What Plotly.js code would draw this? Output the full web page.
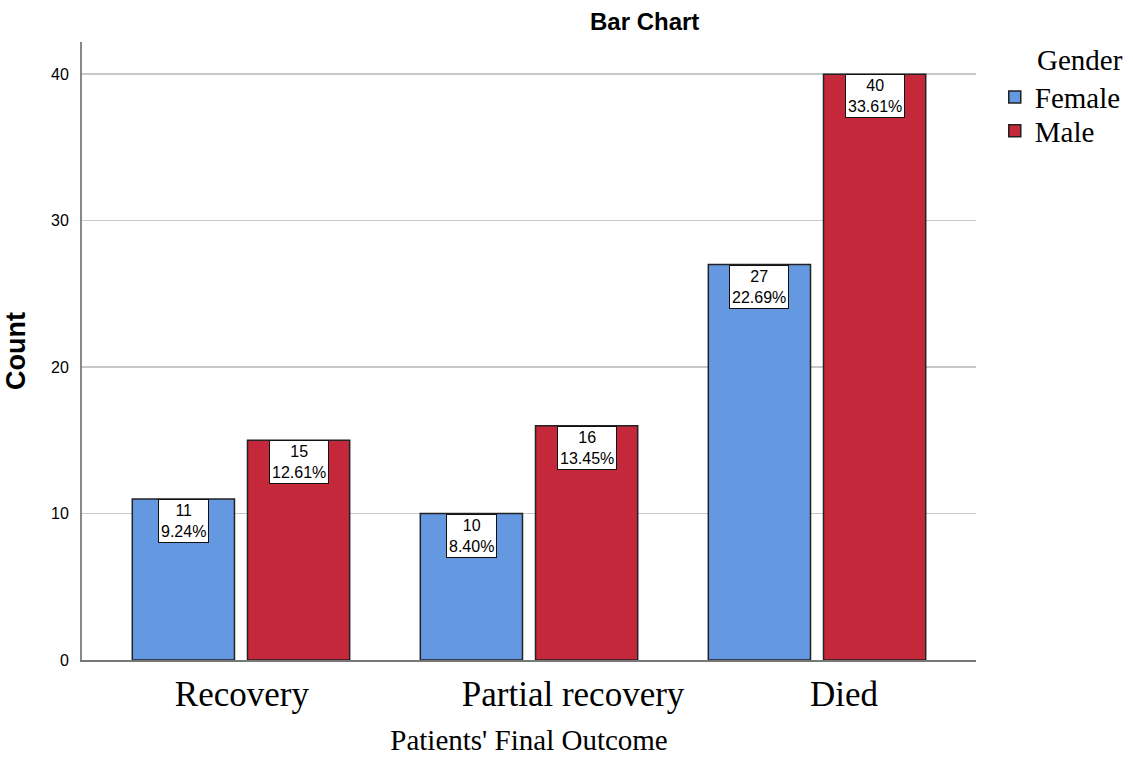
<!DOCTYPE html>
<html>
<head>
<meta charset="utf-8">
<script src="https://cdn.plot.ly/plotly-3.0.1.min.js"></script>
<style>
  html, body { margin: 0; padding: 0; background: white; }
  #myDiv { width: 1133px; height: 761px; }
</style>
</head>
<body>
<div id="myDiv"></div>
<script>
// values
const categories = ["Recovery", "Partial recovery", "Died"];
const femaleCounts = [11, 10, 27];
const maleCounts = [15, 16, 40];
const femalePct = ["9.24%", "8.40%", "22.69%"];
const malePct = ["12.61%", "13.45%", "33.61%"];

const serif = "Liberation Serif, Times New Roman, serif";
const sans = "Liberation Sans, Arial, sans-serif";

// bars go on a numeric axis (one slot per category) so the category
// labels can sit where the original puts them, a little right of centre
const slots = categories.map((c, i) => i);

let data = [
    {
        type: "bar",
        name: "Female",
        x: slots,
        y: femaleCounts,
        marker: { color: "#6498e0", line: { color: "#222222", width: 1.5 } },
        legend: "legend",
        showlegend: true,
        hoverinfo: "none",
    },
    {
        type: "bar",
        name: "Male",
        x: slots,
        y: maleCounts,
        marker: { color: "#c4283a", line: { color: "#222222", width: 1.5 } },
        legend: "legend2",
        showlegend: true,
        hoverinfo: "none",
    },
];

// boxed count / percent labels sitting just inside the bar tops
const barOffset = 0.2;
let annotations = [];
slots.forEach((s) => {
    [[femaleCounts, femalePct, -barOffset], [maleCounts, malePct, barOffset]].forEach(([counts, pcts, off]) => {
        annotations.push({
            x: s + off,
            y: counts[s],
            xref: "x",
            yref: "y",
            yanchor: "top",
            text: counts[s] + "<br>" + pcts[s],
            showarrow: false,
            font: { family: sans, size: 16, color: "#000" },
            bgcolor: "white",
            bordercolor: "#111",
            borderwidth: 1,
            borderpad: 2,
        });
    });
});

// legend title sits over the item text, not over the swatches
annotations.push({
    xref: "paper",
    yref: "paper",
    x: 1.066,
    xanchor: "left",
    y: 0.971,
    yanchor: "middle",
    text: "Gender",
    showarrow: false,
    font: { family: serif, size: 29, color: "#000" },
});

// one legend per series, so the rows can sit as tight as in the original
const legendBase = {
    xref: "container",
    x: 0.878,
    xanchor: "left",
    yref: "container",
    yanchor: "middle",
    bgcolor: "rgba(0,0,0,0)",
    font: { family: serif, size: 29, color: "#000" },
    itemwidth: 30,
};

let layout = {
    width: 1133,
    height: 761,
    margin: { l: 82, r: 157, t: 42, b: 101 },
    paper_bgcolor: "white",
    plot_bgcolor: "white",
    showlegend: true,
    title: {
        text: "<b>Bar Chart</b>",
        font: { family: sans, size: 24, color: "#000" },
        xref: "container",
        x: 0.569,
        xanchor: "center",
        yref: "container",
        y: 0.971,
        yanchor: "middle",
    },
    barmode: "group",
    bargap: 0.2,
    bargroupgap: 0.113,
    xaxis: {
        type: "linear",
        range: [-0.552, 2.552],
        tickmode: "array",
        tickvals: [0.003, 1.153, 2.094],
        ticktext: categories,
        showgrid: false,
        zeroline: false,
        showline: true,
        linecolor: "#777",
        linewidth: 2,
        ticks: "outside",
        ticklen: 2,
        tickcolor: "white",
        tickfont: { family: serif, size: 35, color: "#000" },
        title: {
            text: "Patients' Final Outcome",
            font: { family: serif, size: 29, color: "#000" },
            standoff: 17,
        },
    },
    yaxis: {
        range: [0, 42.2],
        tickvals: [0, 10, 20, 30, 40],
        showgrid: true,
        gridcolor: "#c8c8c8",
        gridwidth: 1.5,
        zeroline: false,
        showline: true,
        linecolor: "#888",
        linewidth: 2,
        ticks: "outside",
        ticklen: 8,
        tickcolor: "white",
        tickfont: { family: sans, size: 16, color: "#000" },
        title: {
            text: "<b>Count</b>",
            font: { family: sans, size: 27, color: "#000" },
            standoff: 18,
        },
    },
    legend: Object.assign({}, legendBase, { y: 0.8725 }),
    legend2: Object.assign({}, legendBase, { y: 0.828 }),
    annotations: annotations,
    hovermode: false,
};

Plotly.newPlot("myDiv", data, layout, { displayModeBar: false, staticPlot: true });
</script>
</body>
</html>
